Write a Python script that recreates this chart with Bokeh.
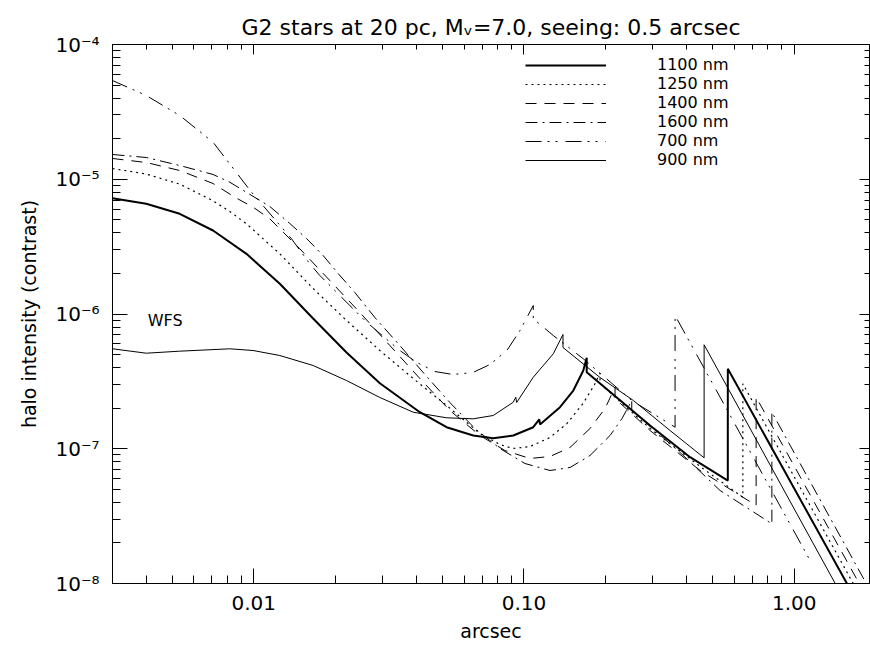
from bokeh.plotting import figure
from bokeh.models import Range1d, FixedTicker, LogAxis, Legend, LegendItem, Label
from bokeh.embed import file_html
from bokeh.resources import INLINE

# ---------------- data ----------------
x_1100 = [0.003, 0.004, 0.00532, 0.007067, 0.009397, 0.012485, 0.016579, 0.022042, 0.029286,
          0.04119, 0.051706, 0.064893, 0.076949, 0.09129, 0.10824, 0.11394, 0.11462, 0.13591,
          0.15226, 0.16579, 0.17068, 0.17068, 0.29286, 0.4119, 0.56806, 0.56806, 1.5674]
y_1100 = [7.234e-6, 6.574e-6, 5.541e-6, 4.166e-6, 2.797e-6, 1.675e-6, 9.262e-7, 5.180e-7, 3.065e-7,
          1.867e-7, 1.445e-7, 1.254e-7, 1.198e-7, 1.254e-7, 1.445e-7, 1.649e-7, 1.514e-7, 2.034e-7,
          2.704e-7, 3.808e-7, 4.732e-7, 3.699e-7, 1.488e-7, 8.657e-8, 5.810e-8, 3.920e-7, 1.0e-8]

x_1250 = [0.003, 0.004, 0.00532, 0.007067, 0.00815, 0.009397, 0.012485, 0.016579, 0.022042,
          0.029286, 0.038905, 0.051706, 0.068707, 0.081474, 0.091058, 0.10524, 0.12481, 0.14429,
          0.16537, 0.18164, 0.19116, 0.19116, 0.29286, 0.44862, 0.64565, 0.64565, 1.6536]
y_1250 = [1.202e-5, 1.092e-5, 9.204e-6, 6.921e-6, 5.764e-6, 4.670e-6, 2.797e-6, 1.546e-6, 8.952e-7,
          5.359e-7, 3.320e-7, 2.094e-7, 1.298e-7, 1.075e-7, 1.004e-7, 1.039e-7, 1.212e-7, 1.540e-7,
          2.167e-7, 2.946e-7, 3.636e-7, 3.049e-7, 1.413e-7, 7.384e-8, 4.368e-8, 3.034e-7, 1.0e-8]

x_1400 = [0.003, 0.004, 0.00532, 0.007067, 0.008504, 0.00994, 0.011463, 0.014805, 0.019116,
          0.024693, 0.03189, 0.04119, 0.05318, 0.068707, 0.085019, 0.10524, 0.12481, 0.14803,
          0.17553, 0.19953, 0.21727, 0.21727, 0.29286, 0.44862, 0.72311, 0.72311, 1.7403]
y_1400 = [1.426e-5, 1.331e-5, 1.161e-5, 9.300e-6, 7.358e-6, 6.203e-6, 5.087e-6, 3.048e-6, 1.772e-6,
          1.026e-6, 5.836e-7, 3.320e-7, 1.923e-7, 1.254e-7, 9.705e-8, 8.466e-8, 8.761e-8, 1.022e-7,
          1.413e-7, 1.990e-7, 2.861e-7, 2.360e-7, 1.366e-7, 6.895e-8, 3.792e-8, 2.413e-7, 1.0e-8]

x_1600 = [0.003, 0.004, 0.00532, 0.007067, 0.00815, 0.011463, 0.013594, 0.015674, 0.018057,
          0.020518, 0.023662, 0.028058, 0.034722, 0.042984, 0.05318, 0.065836, 0.081474, 0.10085,
          0.12481, 0.14803, 0.17553, 0.20822, 0.23067, 0.25055, 0.25055, 0.37819, 0.53198,
          0.82679, 0.82679, 1.8481]
y_1600 = [1.527e-5, 1.450e-5, 1.265e-5, 1.085e-5, 9.508e-6, 6.278e-6, 4.694e-6, 3.634e-6, 2.717e-6,
          1.998e-6, 1.444e-6, 9.419e-7, 5.836e-7, 3.556e-7, 2.204e-7, 1.413e-7, 1.004e-7, 7.770e-8,
          6.895e-8, 7.259e-8, 8.911e-8, 1.254e-7, 1.677e-7, 2.281e-7, 1.923e-7, 9.380e-8, 4.899e-8,
          2.773e-8, 1.867e-7, 1.0e-8]

x_700 = [0.003, 0.004, 0.00532, 0.007067, 0.009806, 0.010678, 0.012667, 0.013792, 0.01612,
         0.017553, 0.021122, 0.022675, 0.025768, 0.029286, 0.034722, 0.040153, 0.046809, 0.054556,
         0.064729, 0.074815, 0.086479, 0.096651, 0.10824, 0.10824, 0.12837, 0.16579, 0.25055,
         0.3624, 0.3624, 1.1631]
y_700 = [5.404e-5, 4.183e-5, 2.972e-5, 1.884e-5, 8.015e-6, 6.574e-6, 4.408e-6, 3.616e-6, 2.358e-6,
         1.931e-6, 1.332e-6, 1.156e-6, 8.952e-7, 7.165e-7, 5.359e-7, 4.366e-7, 3.743e-7, 3.556e-7,
         3.680e-7, 4.219e-7, 5.359e-7, 7.543e-7, 1.156e-6, 9.215e-7, 6.924e-7, 4.651e-7, 2.281e-7,
         1.445e-7, 9.748e-7, 1.400e-8]

x_900 = [0.003, 0.004, 0.00532, 0.00815, 0.00994, 0.012485, 0.016579, 0.022042, 0.029286,
         0.038905, 0.051706, 0.064893, 0.076949, 0.09129, 0.093238, 0.093972, 0.10824, 0.12837,
         0.13943, 0.13943, 0.19116, 0.25398, 0.34722, 0.46416, 0.46416, 1.4185]
y_900 = [5.517e-7, 5.118e-7, 5.297e-7, 5.517e-7, 5.359e-7, 4.920e-7, 4.148e-7, 3.209e-7, 2.401e-7,
         1.867e-7, 1.697e-7, 1.668e-7, 1.765e-7, 2.215e-7, 2.413e-7, 2.204e-7, 3.396e-7, 5.065e-7,
         7.044e-7, 5.641e-7, 3.379e-7, 2.281e-7, 1.366e-7, 8.567e-8, 5.907e-7, 1.0e-8]

x_major = [0.01, 0.1, 1.0]
x_labels = ["0.01", "0.10", "1.00"]
x_minor = [0.003, 0.004, 0.005, 0.006, 0.007, 0.008, 0.009,
           0.02, 0.03, 0.04, 0.05, 0.06, 0.07, 0.08, 0.09,
           0.2, 0.3, 0.4, 0.5, 0.6, 0.7, 0.8, 0.9]
y_major = [1e-8, 1e-7, 1e-6, 1e-5, 1e-4]
y_labels = ["10\u207b\u2078", "10\u207b\u2077", "10\u207b\u2076", "10\u207b\u2075", "10\u207b\u2074"]
y_minor = [m * 10.0 ** e for e in range(-8, -4) for m in range(2, 10)]

TITLE = "G2 stars at 20 pc, M\u1d65=7.0, seeing: 0.5 arcsec"
FONT = "DejaVu Sans"

p = figure(width=870, height=651, x_axis_type="log", y_axis_type="log",
           x_range=Range1d(0.003, 1.9), y_range=Range1d(1e-8, 1e-4),
           output_backend="svg", toolbar_location=None,
           min_border_left=112, min_border_right=1, min_border_top=44, min_border_bottom=68)

p.title.text = TITLE
p.title.align = "center"
p.title.text_font = FONT
p.title.text_font_size = "22px"
p.title.text_font_style = "normal"
p.title.text_color = "black"

p.grid.visible = False
p.outline_line_color = "black"
p.background_fill_color = "white"
p.border_fill_color = "white"

xt = FixedTicker(ticks=x_major, minor_ticks=x_minor)
yt = FixedTicker(ticks=y_major, minor_ticks=y_minor)
p.xaxis.ticker = xt
p.yaxis.ticker = yt
p.xaxis.major_label_overrides = {v: s for v, s in zip(x_major, x_labels)}
p.yaxis.major_label_overrides = {v: s for v, s in zip(y_major, y_labels)}

for ax in (p.xaxis[0], p.yaxis[0]):
    ax.axis_line_color = "black"
    ax.major_tick_line_color = "black"
    ax.minor_tick_line_color = "black"
    ax.major_tick_in = 15
    ax.major_tick_out = 0
    ax.minor_tick_in = 8
    ax.minor_tick_out = 0
    ax.major_label_text_font = FONT
    ax.major_label_text_font_size = "20px"
    ax.major_label_text_color = "black"
    ax.axis_label_text_font = FONT
    ax.axis_label_text_font_size = "19px"
    ax.axis_label_text_font_style = "normal"
    ax.axis_label_text_color = "black"

p.xaxis.axis_label = "arcsec"
p.yaxis.axis_label = "halo intensity (contrast)"
p.xaxis.major_label_standoff = 12
p.xaxis.axis_label_standoff = 7
p.yaxis.major_label_standoff = 13
p.yaxis.axis_label_standoff = 12

for side, tk in (("right", yt), ("above", xt)):
    ax = LogAxis(ticker=tk, major_label_text_alpha=0, major_label_text_font_size="2px",
                 major_label_standoff=0,
                 major_tick_in=10, major_tick_out=0, minor_tick_in=5, minor_tick_out=0,
                 axis_line_color="black", major_tick_line_color="black",
                 minor_tick_line_color="black")
    p.add_layout(ax, side)

r1100 = p.line(x_1100, y_1100, line_color="black", line_width=2)
r1250 = p.line(x_1250, y_1250, line_color="black", line_width=1.2, line_dash="2 4")
r1400 = p.line(x_1400, y_1400, line_color="black", line_width=1, line_dash="11 8")
r1600 = p.line(x_1600, y_1600, line_color="black", line_width=1, line_dash="12 5 2 5")
r700 = p.line(x_700, y_700, line_color="black", line_width=1, line_dash="16 6 2 6 2 8")
r900 = p.line(x_900, y_900, line_color="black", line_width=1)

legend = Legend(items=[LegendItem(label="1100 nm", renderers=[r1100]),
                       LegendItem(label="1250 nm", renderers=[r1250]),
                       LegendItem(label="1400 nm", renderers=[r1400]),
                       LegendItem(label="1600 nm", renderers=[r1600]),
                       LegendItem(label="700 nm", renderers=[r700]),
                       LegendItem(label="900 nm", renderers=[r900])],
                location=(413, 414), glyph_width=81, glyph_height=16, label_height=16,
                label_standoff=51, spacing=-1, padding=0, margin=0,
                label_text_font=FONT, label_text_font_size="16px", label_text_color="black",
                border_line_alpha=0, background_fill_alpha=0)
p.add_layout(legend)

p.add_layout(Label(x=0.00405, y=8.95e-7, text="WFS", text_font=FONT, text_font_size="16px",
                   text_baseline="middle", text_color="black"))

open("out.html", "w").write(file_html(p, INLINE))
